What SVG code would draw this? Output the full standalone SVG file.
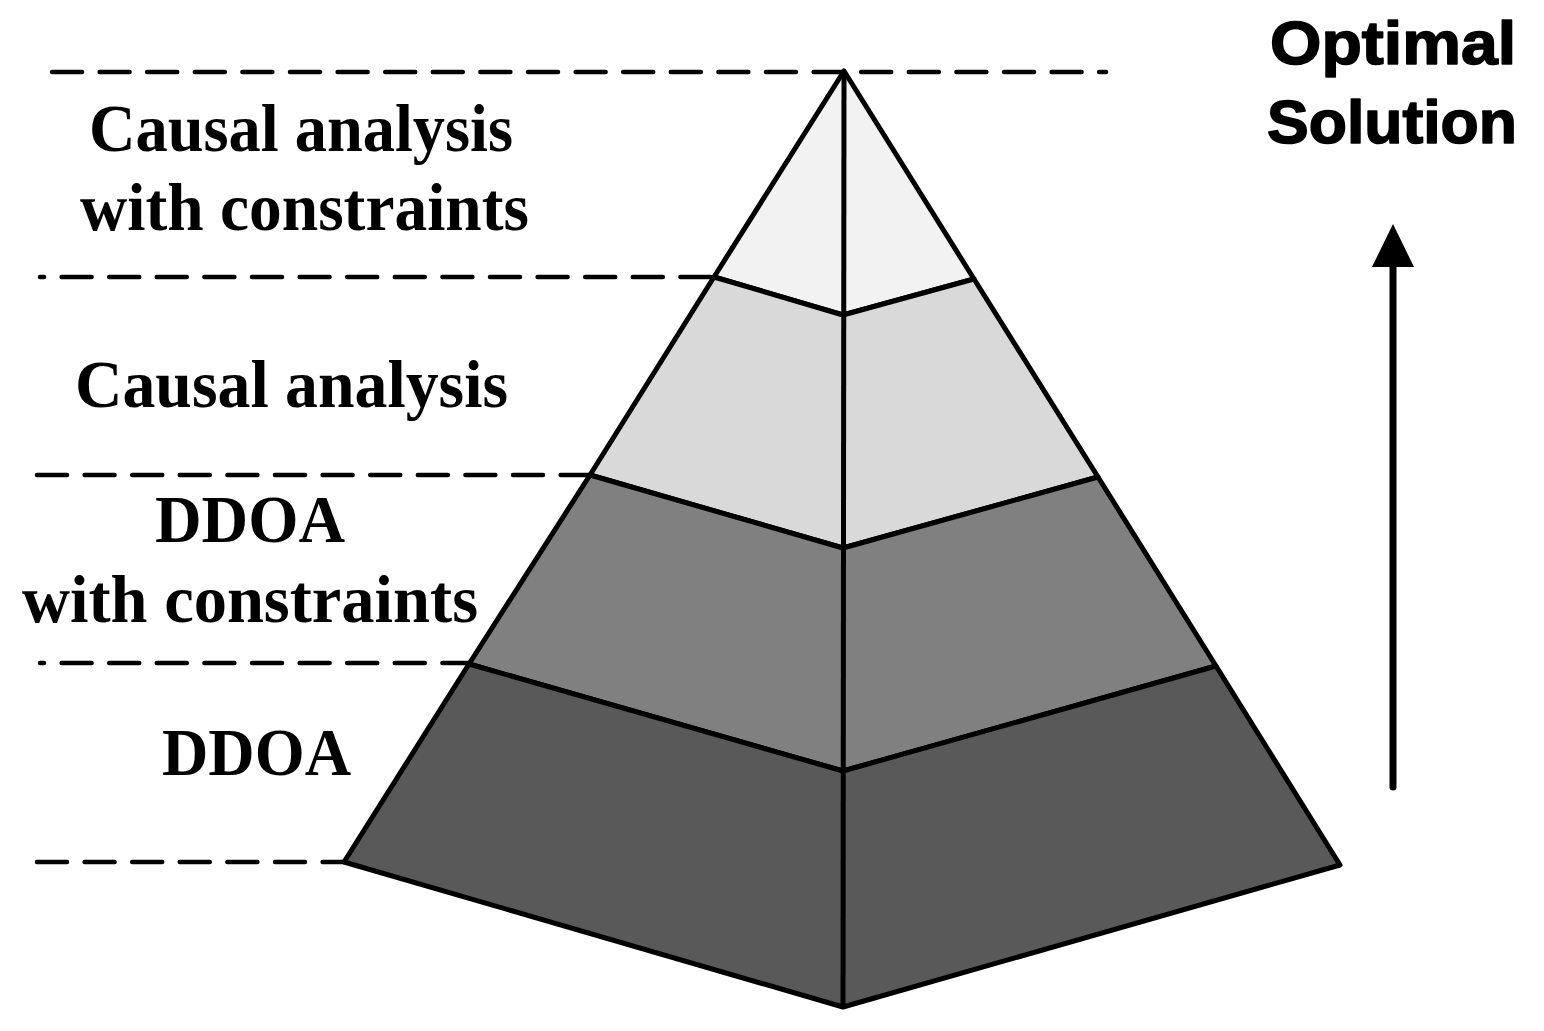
<svg xmlns="http://www.w3.org/2000/svg" width="1544" height="1031" viewBox="0 0 1544 1031">
  <style>
    .dash { stroke: #000; stroke-width: 4.5; stroke-dasharray: 30 17.6; stroke-linecap: round; fill: none; }
    .tier { stroke: #000; stroke-width: 5; stroke-linejoin: round; }
    .lbl { font-family: "Liberation Serif", "Times New Roman", serif; font-weight: bold; font-size: 68px; fill: #000; }
    .title { font-family: "Liberation Sans", Arial, sans-serif; font-weight: bold; font-size: 62px; fill: #000; stroke: #000; stroke-width: 1.6; stroke-linejoin: round; text-anchor: middle; }
  </style>

  <rect width="1544" height="1031" fill="#fff"/>

  <g id="guides">
    <path class="dash" d="M52 72 H1106"/>
    <path class="dash" d="M40 277 H713" stroke-dashoffset="26"/>
    <path class="dash" d="M37 475 H589"/>
    <path class="dash" d="M40 663 H469" stroke-dashoffset="26"/>
    <path class="dash" d="M37 862 H344"/>
  </g>

  <g id="pyramid">
    <g id="tier-causal-constraints">
      <polygon class="tier" fill="#f2f2f2" points="844,71 974,279 843,315 714,277"/>
    </g>
    <g id="tier-causal">
      <polygon class="tier" fill="#d9d9d9" points="714,277 843,315 974,279 1098,477 843,548 590,475"/>
    </g>
    <g id="tier-ddoa-constraints">
      <polygon class="tier" fill="#808080" points="590,475 843,548 1098,477 1216,666 843,771 469,664"/>
    </g>
    <g id="tier-ddoa">
      <polygon class="tier" fill="#595959" points="469,664 843,771 1216,666 1340,865 843,1007 344,862"/>
    </g>
    <line x1="844" y1="71" x2="843" y2="1007" stroke="#000" stroke-width="5"/>
  </g>

  <g id="labels">
    <g id="label-causal-constraints">
      <text class="lbl" x="89" y="151" textLength="424" lengthAdjust="spacingAndGlyphs">Causal analysis</text>
      <text class="lbl" x="80" y="230" textLength="449" lengthAdjust="spacingAndGlyphs">with constraints</text>
    </g>
    <g id="label-causal">
      <text class="lbl" x="75" y="407" textLength="433" lengthAdjust="spacingAndGlyphs">Causal analysis</text>
    </g>
    <g id="label-ddoa-constraints">
      <text class="lbl" x="155" y="542" textLength="190" lengthAdjust="spacingAndGlyphs">DDOA</text>
      <text class="lbl" x="22" y="622" textLength="456" lengthAdjust="spacingAndGlyphs">with constraints</text>
    </g>
    <g id="label-ddoa">
      <text class="lbl" x="162" y="775" textLength="189" lengthAdjust="spacingAndGlyphs">DDOA</text>
    </g>
  </g>

  <g id="optimal-solution">
    <text class="title" x="1393" y="64" textLength="246" lengthAdjust="spacingAndGlyphs">Optimal</text>
    <text class="title" x="1392" y="143" textLength="250" lengthAdjust="spacingAndGlyphs">Solution</text>
  </g>

  <g id="connectors">
    <line x1="1393" y1="787" x2="1393" y2="262" stroke="#000" stroke-width="7" stroke-linecap="round"/>
    <polygon points="1393,224 1414,267 1372,267" fill="#000"/>
  </g>
</svg>
